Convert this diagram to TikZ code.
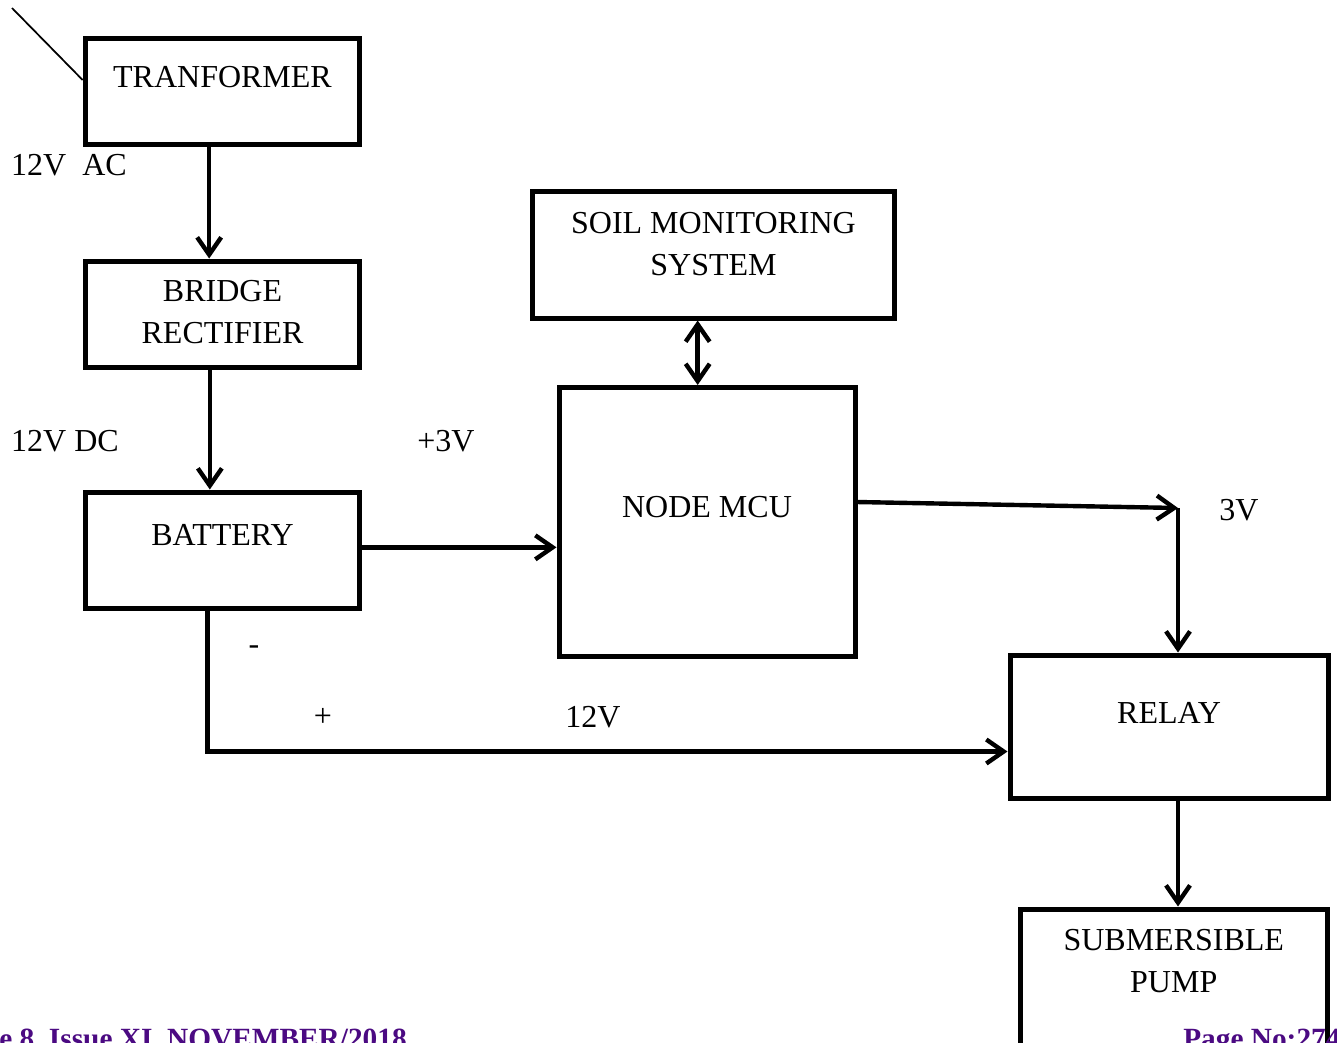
\documentclass[tikz,border=0pt]{standalone}
\usepackage{fontspec}
\setmainfont{Liberation Serif}
\usetikzlibrary{arrows.meta}
\definecolor{stopka}{HTML}{4B0A82}
% podnosi tekst w bloku (dodaje glebokosc ostatniej linii)
\newcommand{\dol}[1]{\rule[-#1]{0pt}{0pt}}

\begin{document}
\begin{tikzpicture}[x=0.75pt, y=-0.75pt, font=\fontsize{24}{31}\selectfont,
    blok/.style={rectangle, draw, line width=3.75pt, align=center, inner sep=0pt},
    strzalka/.style={line width=3.3pt, >={Straight Barb[length=13pt, width=18pt]}, ->},
    opis/.style={inner sep=0pt}]
    \useasboundingbox (0,0) rectangle (1337,1042);
    \clip (0,0) rectangle (1337,1042);

    % Bloki
    \node[blok, minimum width=206pt, minimum height=80pt] (trafo) at (222.5,91.5) {TRANFORMER\dol{22pt}};
    \node[blok, minimum width=206pt, minimum height=79.5pt] (mostek) at (222.5,314) {BRIDGE\\RECTIFIER\dol{3pt}};
    \node[blok, minimum width=206pt, minimum height=87pt] (bateria) at (222.5,550) {BATTERY\dol{22pt}};
    \node[blok, minimum width=271.5pt, minimum height=95.25pt] (czujnik) at (713.5,254.5) {SOIL MONITORING\\SYSTEM\dol{16pt}};
    \node[blok, minimum width=222pt, minimum height=201.4pt] (mcu) at (707,521.75) {NODE MCU\dol{22pt}};
    \node[blok, minimum width=238.5pt, minimum height=107.25pt] (przekaznik) at (1169,726.5) {RELAY\dol{21pt}};
    \node[blok, minimum width=230.6pt, minimum height=120pt] (pompa) at (1173.75,989) {SUBMERSIBLE\\PUMP\dol{42pt}};

    % Punkty pomocnicze
    \coordinate (wejscie) at (12,8);
    \coordinate (zalom) at (1178,508);

    % Polaczenia
    \draw[line width=1.3pt] (wejscie) -- ([yshift=8.6pt]trafo.west);
    \draw[strzalka] ([xshift=-10pt]trafo.south) -- ([xshift=-10pt]mostek.north);
    \draw[strzalka] ([xshift=-9.5pt]mostek.south) -- ([xshift=-9.5pt]bateria.north);
    \draw[strzalka] ([yshift=2pt]bateria.east) -- ([yshift=2pt]bateria.east -| mcu.west);
    \draw[strzalka, <->] ([xshift=-7pt]mcu.north |- czujnik.south) -- ([xshift=-7pt]mcu.north);
    \draw[strzalka] ([yshift=14.8pt]mcu.east) -- (zalom);
    \draw[strzalka] (zalom) -- (zalom |- przekaznik.north);
    \draw[strzalka] (zalom |- przekaznik.south) -- (zalom |- pompa.north);
    \draw[strzalka] ([xshift=-11.25pt]bateria.south) |- ([yshift=-18.75pt]przekaznik.west);

    % Opisy napiec
    \node[opis] (ac) at (69,165) {12V~ AC};
    \node[opis] (dc) at (65,441) {12V DC};
    \node[opis] (plus3) at (446,441) {+3V};
    \node[opis] (minus) at (254,650) {-};
    \node[opis] (plus) at (323,717) {+};
    \node[opis] (v12) at (593,717) {12V};
    \node[opis] (v3) at (1239,510) {3V};

    % Stopka
    \node[opis, anchor=base east, text=stopka, font=\fontsize{22}{26}\selectfont\bfseries] (wydanie) at (407,1048) {e 8, Issue XI, NOVEMBER/2018};
    \node[opis, anchor=base west, text=stopka, font=\fontsize{22}{26}\selectfont\bfseries] (strona) at (1183,1048) {Page No:274};
\end{tikzpicture}
\end{document}
